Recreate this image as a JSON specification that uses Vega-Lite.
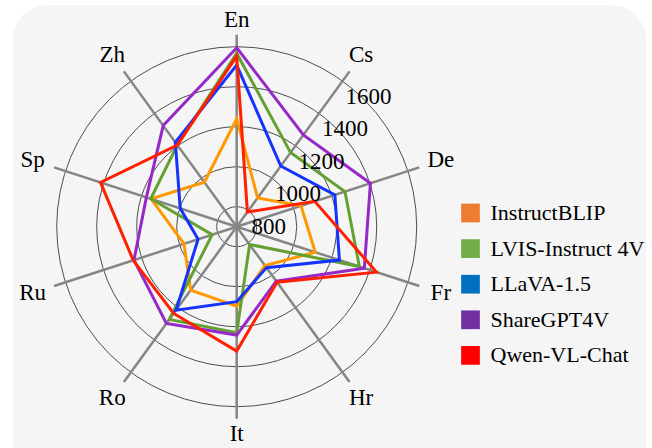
{
  "$schema": "https://vega.github.io/schema/vega-lite/v6.json",
  "width": 633.5,
  "height": 443,
  "autosize": {"type": "none"},
  "padding": {"left": 12.5, "top": 5, "right": 6, "bottom": 0},
  "background": "white",
  "config": {
    "view": {"stroke": null, "fill": "#f5f5f5"},
    "style": {"cell": {"cornerRadiusTopLeft": 35, "cornerRadiusTopRight": 35}},
    "font": "Liberation Serif",
    "legend": {"labelFont": "Liberation Serif"}
  },
  "datasets": {
    "scores": [
      {"model": "InstructBLIP", "lang": "En", "i": 0, "score": 1240},
      {"model": "InstructBLIP", "lang": "Cs", "i": 1, "score": 878},
      {"model": "InstructBLIP", "lang": "De", "i": 2, "score": 1038},
      {"model": "InstructBLIP", "lang": "Fr", "i": 3, "score": 1113},
      {"model": "InstructBLIP", "lang": "Hr", "i": 4, "score": 940},
      {"model": "InstructBLIP", "lang": "It", "i": 5, "score": 1097},
      {"model": "InstructBLIP", "lang": "Ro", "i": 6, "score": 1092},
      {"model": "InstructBLIP", "lang": "Ru", "i": 7, "score": 977},
      {"model": "InstructBLIP", "lang": "Sp", "i": 8, "score": 1150},
      {"model": "InstructBLIP", "lang": "Zh", "i": 9, "score": 975},
      {"model": "LVIS-Instruct 4V", "lang": "En", "i": 0, "score": 1567},
      {"model": "LVIS-Instruct 4V", "lang": "Cs", "i": 1, "score": 1158},
      {"model": "LVIS-Instruct 4V", "lang": "De", "i": 2, "score": 1269},
      {"model": "LVIS-Instruct 4V", "lang": "Fr", "i": 3, "score": 1345},
      {"model": "LVIS-Instruct 4V", "lang": "Hr", "i": 4, "score": 810},
      {"model": "LVIS-Instruct 4V", "lang": "It", "i": 5, "score": 1230},
      {"model": "LVIS-Instruct 4V", "lang": "Ro", "i": 6, "score": 1273},
      {"model": "LVIS-Instruct 4V", "lang": "Ru", "i": 7, "score": 829},
      {"model": "LVIS-Instruct 4V", "lang": "Sp", "i": 8, "score": 1152},
      {"model": "LVIS-Instruct 4V", "lang": "Zh", "i": 9, "score": 1205},
      {"model": "LLaVA-1.5", "lang": "En", "i": 0, "score": 1508},
      {"model": "LLaVA-1.5", "lang": "Cs", "i": 1, "score": 1075},
      {"model": "LLaVA-1.5", "lang": "De", "i": 2, "score": 1216},
      {"model": "LLaVA-1.5", "lang": "Fr", "i": 3, "score": 1240},
      {"model": "LLaVA-1.5", "lang": "Hr", "i": 4, "score": 953},
      {"model": "LLaVA-1.5", "lang": "It", "i": 5, "score": 1075},
      {"model": "LLaVA-1.5", "lang": "Ro", "i": 6, "score": 1216},
      {"model": "LLaVA-1.5", "lang": "Ru", "i": 7, "score": 903},
      {"model": "LLaVA-1.5", "lang": "Sp", "i": 8, "score": 997},
      {"model": "LLaVA-1.5", "lang": "Zh", "i": 9, "score": 1222},
      {"model": "ShareGPT4V", "lang": "En", "i": 0, "score": 1595},
      {"model": "ShareGPT4V", "lang": "Cs", "i": 1, "score": 1267},
      {"model": "ShareGPT4V", "lang": "De", "i": 2, "score": 1403},
      {"model": "ShareGPT4V", "lang": "Fr", "i": 3, "score": 1371},
      {"model": "ShareGPT4V", "lang": "Hr", "i": 4, "score": 1037},
      {"model": "ShareGPT4V", "lang": "It", "i": 5, "score": 1242},
      {"model": "ShareGPT4V", "lang": "Ro", "i": 6, "score": 1298},
      {"model": "ShareGPT4V", "lang": "Ru", "i": 7, "score": 1240},
      {"model": "ShareGPT4V", "lang": "Sp", "i": 8, "score": 1175},
      {"model": "ShareGPT4V", "lang": "Zh", "i": 9, "score": 1325},
      {"model": "Qwen-VL-Chat", "lang": "En", "i": 0, "score": 1553},
      {"model": "Qwen-VL-Chat", "lang": "Cs", "i": 1, "score": 791},
      {"model": "Qwen-VL-Chat", "lang": "De", "i": 2, "score": 1110},
      {"model": "Qwen-VL-Chat", "lang": "Fr", "i": 3, "score": 1435},
      {"model": "Qwen-VL-Chat", "lang": "Hr", "i": 4, "score": 1043},
      {"model": "Qwen-VL-Chat", "lang": "It", "i": 5, "score": 1322},
      {"model": "Qwen-VL-Chat", "lang": "Ro", "i": 6, "score": 1236},
      {"model": "Qwen-VL-Chat", "lang": "Ru", "i": 7, "score": 1244},
      {"model": "Qwen-VL-Chat", "lang": "Sp", "i": 8, "score": 1416},
      {"model": "Qwen-VL-Chat", "lang": "Zh", "i": 9, "score": 1205}
    ],
    "axes": [
      {"lang": "En", "i": 0}, {"lang": "Cs", "i": 1}, {"lang": "De", "i": 2},
      {"lang": "Fr", "i": 3}, {"lang": "Hr", "i": 4}, {"lang": "It", "i": 5},
      {"lang": "Ro", "i": 6}, {"lang": "Ru", "i": 7}, {"lang": "Sp", "i": 8},
      {"lang": "Zh", "i": 9}
    ],
    "ticks": [{"t": 800}, {"t": 1000}, {"t": 1200}, {"t": 1400}, {"t": 1600}]
  },
  "resolve": {"scale": {"x": "shared", "y": "shared"}},
  "layer": [
    {
      "data": {"name": "ticks"},
      "transform": [
        {"calculate": "0", "as": "cx"},
        {"calculate": "0", "as": "cy"},
        {"calculate": "700", "as": "r0"}
      ],
      "mark": {"type": "arc", "theta": 0, "theta2": 6.2832, "filled": false, "stroke": "#4d4d4d", "strokeWidth": 1},
      "encoding": {
        "x": {"field": "cx", "type": "quantitative", "scale": {"domain": [-1121, 2046.5], "nice": false, "zero": false}, "axis": null},
        "y": {"field": "cy", "type": "quantitative", "scale": {"domain": [-1106.5, 1108.5], "nice": false, "zero": false}, "axis": null},
        "radius": {"field": "t", "type": "quantitative", "scale": {"type": "linear", "domain": [700, 1700], "range": [0, 200], "zero": false, "nice": false}},
        "radius2": {"field": "r0"}
      }
    },
    {
      "data": {"name": "axes"},
      "transform": [
        {"calculate": "0", "as": "cx"},
        {"calculate": "0", "as": "cy"},
        {"calculate": "960*sin(datum.i*PI/5)", "as": "ex"},
        {"calculate": "960*cos(datum.i*PI/5)", "as": "ey"}
      ],
      "mark": {"type": "rule", "color": "#858585", "strokeWidth": 2.5},
      "encoding": {
        "x": {"field": "cx", "type": "quantitative"},
        "y": {"field": "cy", "type": "quantitative"},
        "x2": {"field": "ex"},
        "y2": {"field": "ey"}
      }
    },
    {
      "data": {"name": "scores"},
      "transform": [
        {"calculate": "(datum.score-700)*sin(datum.i*PI/5)", "as": "px"},
        {"calculate": "(datum.score-700)*cos(datum.i*PI/5)", "as": "py"}
      ],
      "mark": {"type": "line", "interpolate": "linear-closed", "strokeWidth": 3, "strokeJoin": "miter"},
      "encoding": {
        "x": {"field": "px", "type": "quantitative"},
        "y": {"field": "py", "type": "quantitative"},
        "order": {"field": "i", "type": "quantitative"},
        "stroke": {
          "field": "model", "type": "nominal",
          "scale": {"domain": ["InstructBLIP", "LVIS-Instruct 4V", "LLaVA-1.5", "ShareGPT4V", "Qwen-VL-Chat"],
                    "range": ["#ff9900", "#64a032", "#1433ff", "#9628c8", "#ff2000"]},
          "legend": null
        }
      }
    },
    {
      "data": {"name": "scores"},
      "transform": [
        {"calculate": "0", "as": "cx"},
        {"calculate": "0", "as": "cy"},
        {"calculate": "datum.model", "as": "name"}
      ],
      "mark": {"type": "point", "shape": "square", "filled": true, "size": 350, "opacity": 0, "strokeWidth": 0},
      "encoding": {
        "x": {"field": "cx", "type": "quantitative"},
        "y": {"field": "cy", "type": "quantitative"},
        "fill": {
          "field": "name", "type": "nominal", "sort": null,
          "scale": {"range": ["#ed7d31", "#70ad47", "#0070c0", "#7030a0", "#ff0000"]},
          "legend": {
            "title": null, "orient": "none", "legendX": 447, "legendY": 197,
            "symbolType": "square", "symbolSize": 350, "symbolOpacity": 1, "symbolStrokeWidth": 0,
            "labelFont": "Liberation Serif", "labelFontSize": 22, "labelColor": "black",
            "labelOffset": 9, "rowPadding": 13.6, "labelLimit": 300,
            "encode": {
              "symbols": {"update": {"opacity": {"value": 1}, "fillOpacity": {"value": 1}, "size": {"value": 350}}},
              "labels": {"update": {"font": {"value": "Liberation Serif"}}}
            }
          }
        }
      }
    },
    {
      "data": {"name": "axes"},
      "transform": [
        {"calculate": "(1035+40*abs(sin(datum.i*PI/5)))*sin(datum.i*PI/5)", "as": "lx"},
        {"calculate": "(1035+40*abs(sin(datum.i*PI/5)))*cos(datum.i*PI/5)", "as": "ly"}
      ],
      "mark": {"type": "text", "font": "Liberation Serif", "fontSize": 23, "color": "black", "align": "center", "baseline": "middle"},
      "encoding": {
        "x": {"field": "lx", "type": "quantitative"},
        "y": {"field": "ly", "type": "quantitative"},
        "text": {"field": "lang"}
      }
    },
    {
      "data": {"name": "ticks"},
      "transform": [
        {"calculate": "(datum.t-700)*sin(PI/5)", "as": "tx"},
        {"calculate": "(datum.t-700)*cos(PI/5)", "as": "ty"}
      ],
      "mark": {"type": "text", "font": "Liberation Serif", "fontSize": 23, "color": "black", "align": "left", "baseline": "middle", "dx": 3, "dy": 16},
      "encoding": {
        "x": {"field": "tx", "type": "quantitative"},
        "y": {"field": "ty", "type": "quantitative"},
        "text": {"field": "t", "type": "quantitative", "format": "d"}
      }
    }
  ]
}
